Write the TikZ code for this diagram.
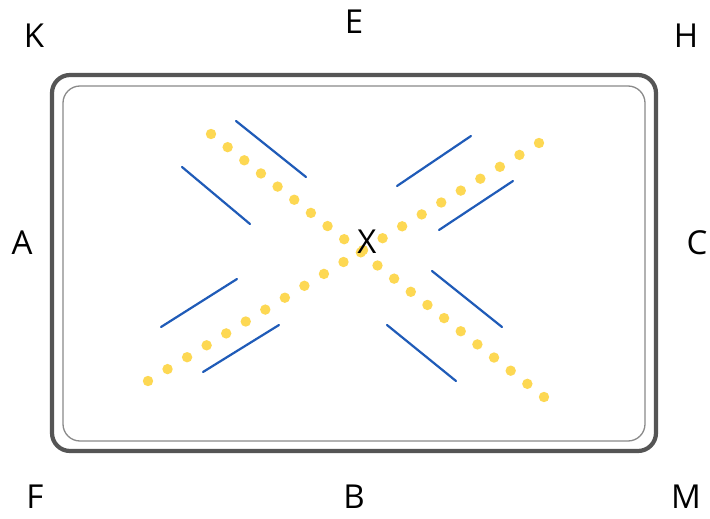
\documentclass[tikz,border=0pt]{standalone}
\usepackage{fontspec}
\setmainfont{Open Sans}
\usetikzlibrary{calc}
\definecolor{dotyellow}{HTML}{FDD853}
\definecolor{lineblue}{HTML}{1F5BB8}
\definecolor{outergray}{HTML}{555555}
\definecolor{innergray}{HTML}{8A8A8A}
\tikzset{
  lbl/.style={font=\fontsize{33}{38}\selectfont, inner sep=0pt, text=black},
  blueline/.style={draw=lineblue, line width=2.2pt, line cap=round},
  dotfill/.style={fill=dotyellow},
}
\begin{document}
\begin{tikzpicture}[x=1pt,y=-1pt]
\useasboundingbox (0,0) rectangle (710,519);
\fill[white] (0,0) rectangle (710,519);
% frames
\draw[outergray, line width=4.2pt, rounded corners=18pt] (52,75) rectangle (656,451);
\draw[innergray, line width=1.3pt, rounded corners=17pt] (63,86) rectangle (645,441);
% dotted diagonals
\coordinate (d1s) at (211,134);
\coordinate (d1e) at (544,397);
\coordinate (d2s) at (148,381);
\coordinate (d2e) at (539,143);
\foreach \i in {0,...,20} {
  \fill[dotyellow] ($(d1s)!\i/20!(d1e)$) circle (5.2);
  \fill[dotyellow] ($(d2s)!\i/20!(d2e)$) circle (5.2);
}
% blue lines
\draw[blueline] (236,121) -- (306,177);
\draw[blueline] (182,167) -- (250,224);
\draw[blueline] (397,186) -- (471,136);
\draw[blueline] (439,230) -- (513,181);
\draw[blueline] (161,327) -- (237,279);
\draw[blueline] (203,372) -- (279,325);
\draw[blueline] (432,271) -- (502,327);
\draw[blueline] (387,325) -- (456,381);
% labels
\node[lbl] (X) at (367,242) {X};
\node[lbl] (K) at (34,36) {K};
\node[lbl] (E) at (354,22) {E};
\node[lbl] (H) at (686,36) {H};
\node[lbl] (A) at (22,243) {A};
\node[lbl] (C) at (697,243) {C};
\node[lbl] (F) at (35,497) {F};
\node[lbl] (B) at (354,497) {B};
\node[lbl] (M) at (686,497) {M};
\end{tikzpicture}
\end{document}
